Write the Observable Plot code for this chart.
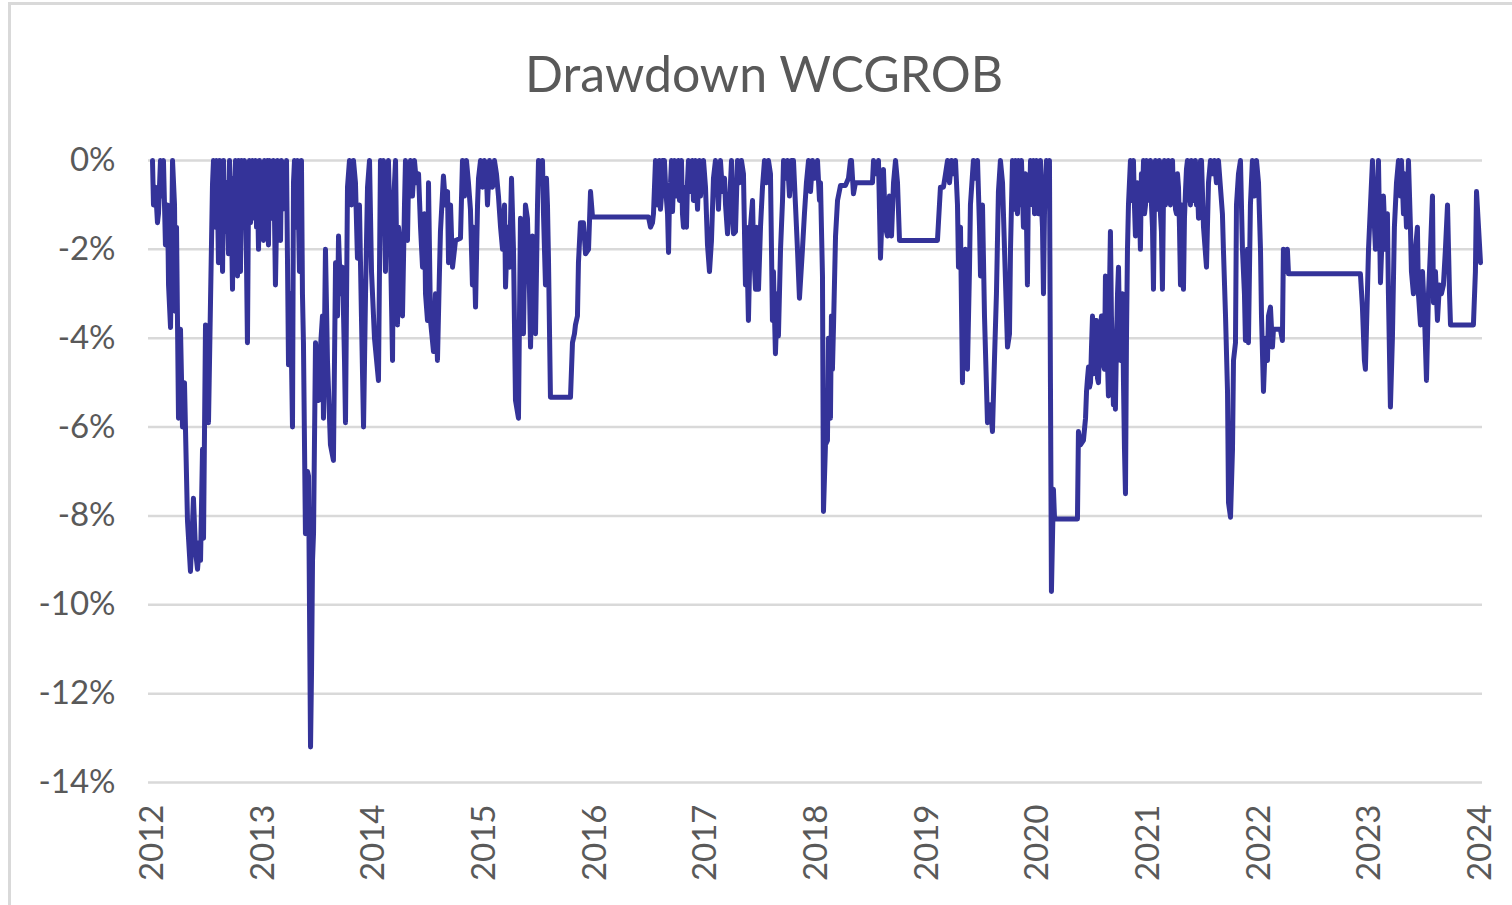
<!DOCTYPE html>
<html>
<head>
<meta charset="utf-8">
<script src="https://cdn.jsdelivr.net/npm/d3@7"></script>
<script src="https://cdn.jsdelivr.net/npm/@observablehq/plot@0.6"></script>
<style>
  html, body { margin: 0; padding: 0; background: #fff; }
  body { width: 1512px; height: 905px; overflow: hidden; position: relative; font-family: Lato, "Open Sans", sans-serif; }
  #frame { position: absolute; left: 8px; top: 2px; width: 1600px; height: 1000px;
           border-top: 3px solid #d9d9d9; border-left: 3px solid #d9d9d9; box-sizing: border-box; }
  #title { position: absolute; top: 48px; left: 264px; width: 1000px; text-align: center;
           font-size: 50px; line-height: 50px; color: #595959; font-family: Lato, sans-serif; }
  #chart { position: absolute; left: 0; top: 130px; }
</style>
</head>
<body>
<div id="frame"></div>
<div id="title">Drawdown WCGROB</div>
<div id="chart"></div>
<script>
// Drawdown (percent) by decimal-year date, one pair of arrays per year
const t2012 = [2012.000,2012.009,2012.027,2012.045,2012.054,2012.072,2012.090,2012.099,2012.117,2012.136,2012.145,2012.163,2012.172,2012.181,2012.199,2012.208,2012.217,2012.235,2012.253,2012.271,2012.289,2012.316,2012.343,2012.361,2012.370,2012.389,2012.407,2012.425,2012.434,2012.452,2012.461,2012.479,2012.497,2012.506,2012.524,2012.542,
  2012.551,2012.560,2012.569,2012.578,2012.587,2012.596,2012.605,2012.614,2012.623,2012.633,
  2012.642,2012.651,2012.660,2012.669,2012.678,2012.687,2012.696,2012.705,2012.714,2012.723,
  2012.732,2012.741,2012.750,2012.759,2012.768,2012.777,2012.786,2012.795,2012.804,2012.813,
  2012.822,2012.831,2012.840,2012.849,2012.858,2012.867,2012.876,2012.886,2012.895,2012.904,
  2012.913,2012.922,2012.931,2012.940,2012.949,2012.958,2012.967,2012.976,2012.985,2012.994];
const v2012 = [0,-1.0,-0.6,-1.4,-1.2,0,-0.8,0,-1.9,-1.0,-2.8,-3.76,-2.0,0,-1.0,-3.4,-1.5,-5.8,-3.8,-6.0,-5.0,-8.1,-9.25,-8.2,-7.6,-8.8,-9.2,-8.6,-9.0,-6.5,-8.5,-3.7,-5.0,-5.9,-3.2,-0.55,
  0,-1.0,-1.5,0,-0.8,-2.3,0,-1.0,-1.2,-2.5,
  0,-1.3,-1.6,-0.5,-1.2,-2.1,0,-0.9,-1.5,-2.9,
  -0.4,-1.0,0,-1.8,-2.6,0,-1.2,-2.5,0,-1.4,
  -1.0,0,-1.1,-2.2,-4.1,-1.0,0,-1.4,-0.6,0,
  -0.8,-1.3,0,-1.5,-0.7,-2.0,0,-0.8,-1.2,-0.3];

const t2013 = [2013.003,2013.012,2013.021,2013.030,2013.039,2013.048,2013.057,2013.066,2013.075,2013.084,
  2013.093,2013.102,2013.111,2013.120,2013.130,2013.139,2013.148,2013.157,2013.166,2013.175,
  2013.184,2013.193,2013.202,2013.211,
  2013.229,2013.247,2013.265,2013.274,2013.283,2013.301,2013.310,2013.328,2013.337,2013.346,2013.355,2013.364,2013.382,2013.401,2013.410,2013.428,2013.437,2013.446,2013.455,2013.473,2013.491,2013.500,2013.518,2013.536,2013.545,2013.563,2013.581,2013.608,2013.635,2013.654,2013.672,2013.681,2013.699,2013.717,2013.735,2013.744,2013.762,2013.780,2013.798,2013.816,2013.834,2013.852,2013.870,2013.888,2013.907,2013.925,2013.943,2013.961,2013.979];
const v2013 = [-1.8,0,-1.1,-0.9,0,-1.9,0,-1.3,-1.0,-0.4,
  0,-1.2,-2.8,-1.5,0,-0.9,-1.0,-1.8,0,-1.1,
  -0.5,-0.2,-0.7,0,
  -4.6,-3.0,-6.0,-0.5,0,-1.5,0,-2.5,-1.0,0,-3.0,-4.1,-8.4,-7.0,-7.1,-13.2,-11.5,-9.0,-8.4,-4.1,-5.0,-5.4,-4.2,-3.5,-5.8,-2.0,-4.5,-6.4,-6.75,-2.3,-3.5,-1.7,-3.0,-2.4,-4.5,-5.9,-0.6,0,-1.0,0,-0.5,-2.2,-1.0,-3.5,-6.0,-3.0,-0.6,0,-2.5];

const t2014 = [2014.006,2014.042,2014.060,2014.078,2014.087,2014.105,2014.114,2014.132,2014.151,2014.169,2014.178,2014.196,2014.214,2014.223,2014.241,2014.259,2014.277,2014.286,2014.304,2014.313,2014.331,2014.349,2014.367,2014.385,2014.404,2014.422,2014.440,2014.458,2014.467,2014.485,2014.494,2014.512,2014.539,2014.557,2014.575,2014.593,2014.602,2014.629,2014.648,2014.666,2014.675,2014.693,2014.711,2014.738,2014.783,2014.801,2014.819,2014.837,2014.855,2014.873,2014.891,2014.901,2014.919,2014.937,2014.946,2014.964,2014.982];
const v2014 = [-4.0,-4.95,0,-1.5,0,-2.5,-0.8,0,-2.0,-4.5,-1.0,0,-3.7,-1.5,-2.0,-3.5,-1.0,0,-1.8,-0.5,0,-0.8,0,-0.5,-0.3,-1.5,-2.4,-1.2,-3.0,-3.6,-0.5,-3.6,-4.3,-3.0,-4.5,-2.5,-1.6,-0.35,-1.0,-0.7,-2.3,-1.0,-2.4,-1.8,-1.75,0,-0.8,0,-0.5,-1.1,-2.8,-1.5,-3.3,-1.0,-0.4,0,-0.6];

const t2015 = [2015.000,2015.018,2015.027,2015.045,2015.072,2015.090,2015.108,2015.126,2015.145,2015.163,2015.181,2015.190,2015.208,2015.226,2015.244,2015.262,2015.280,2015.307,2015.325,2015.334,2015.352,2015.370,2015.388,2015.407,2015.416,2015.434,2015.443,2015.461,2015.479,2015.488,2015.506,2015.524,2015.533,2015.551,2015.560,2015.569,2015.578,2015.596,2015.777,2015.795,2015.813,2015.822,2015.840,2015.849,2015.867,2015.894,2015.913,2015.940,2015.958,2015.976];
const v2015 = [0,-0.4,-1.0,0,-0.6,0,-0.3,-0.8,-1.5,-2.0,-1.0,-2.85,-1.5,-2.4,-0.4,-2.0,-5.4,-5.8,-1.3,-2.5,-3.9,-1.0,-1.3,-3.0,-4.2,-1.7,-2.5,-3.9,-1.0,0,-0.5,0,-1.2,-2.8,-0.4,-1.0,-2.2,-5.33,-5.33,-4.1,-3.9,-3.7,-3.5,-2.3,-1.4,-1.4,-2.1,-2.0,-0.7,-1.27];

const t2016 = [2016.482,2016.500,2016.518,2016.527,
  2016.545,2016.554,2016.563,2016.572,2016.581,2016.590,2016.599,2016.608,2016.617,2016.626,
  2016.635,2016.645,2016.654,2016.663,2016.672,2016.681,2016.690,2016.699,2016.708,2016.717,
  2016.726,2016.735,2016.744,2016.753,2016.762,2016.771,2016.780,2016.789,2016.798,2016.807,
  2016.816,2016.825,2016.834,2016.843,2016.852,2016.861,2016.870,2016.879,2016.888,2016.897,
  2016.906,2016.916,2016.925,2016.934,2016.943,2016.952,
  2016.979,2016.997];
const v2016 = [-1.27,-1.5,-1.4,-1.2,
  0,-0.6,-1.0,-0.3,0,-1.1,-0.8,0,-0.4,0,
  -0.5,-0.9,-1.2,-2.07,-0.8,-0.5,0,-1.15,-0.5,0,
  -0.8,-0.6,-0.2,0,-0.9,-0.7,0,-1.2,-1.5,-1.4,
  -0.6,-1.5,-0.5,0,-0.3,-0.7,-0.2,0,-0.9,-0.5,
  0,-0.6,-1.1,-0.4,0,-0.8,
  0,-0.6];

const t2017 = [2017.015,2017.033,2017.051,2017.069,2017.087,2017.105,2017.114,2017.132,2017.150,2017.169,2017.178,2017.196,2017.214,2017.232,2017.250,2017.268,2017.286,2017.304,2017.322,2017.340,2017.358,2017.367,2017.385,2017.403,2017.422,2017.431,2017.449,2017.458,2017.476,2017.494,2017.512,2017.530,2017.548,2017.566,2017.584,2017.602,2017.611,2017.629,2017.647,2017.656,2017.675,2017.693,2017.702,2017.720,2017.738,2017.756,2017.774,2017.792,2017.810,2017.828,2017.846,2017.873,2017.891,2017.909,2017.928,2017.946,2017.964,2017.982];
const v2017 = [-1.9,-2.5,-1.8,-0.4,0,-0.6,-1.1,0,-0.7,-0.4,-1.0,-1.65,-1.0,0,-1.65,-1.6,0,-0.5,0,-0.3,-2.8,-1.5,-3.6,-1.5,-0.9,-2.0,-2.9,-1.5,-2.9,-1.5,-0.6,0,-0.5,0,-0.3,-3.6,-2.5,-4.35,-3.0,-3.95,-2.0,-0.9,0,-0.4,0,-0.8,0,0,-1.0,-2.0,-3.1,-2.0,-1.2,-0.5,0,-0.7,0,-0.4];

const t2018 = [2018.009,2018.027,2018.036,2018.054,2018.063,2018.081,2018.099,2018.108,2018.126,2018.135,2018.144,2018.154,2018.172,2018.190,2018.217,2018.262,2018.289,2018.307,2018.316,2018.334,2018.352,2018.506,2018.515,2018.542,2018.560,2018.578,2018.596,2018.605,2018.623,2018.641,2018.659,2018.678,2018.696,2018.714,2018.732,2018.750];
const v2018 = [0,-0.9,-0.5,-2.6,-7.9,-6.4,-6.3,-4.0,-5.8,-3.5,-4.7,-3.7,-1.7,-0.9,-0.56,-0.56,-0.4,0,0,-0.75,-0.5,-0.5,0,-0.3,0,-2.2,-1.0,-0.2,-1.5,-1.7,-0.8,-1.7,-0.5,0,-0.5,-1.8];

const t2019 = [2019.093,2019.102,2019.120,2019.147,2019.166,2019.184,2019.202,2019.220,2019.238,2019.256,2019.274,2019.283,2019.301,2019.319,2019.328,2019.346,2019.364,2019.382,2019.391,2019.418,2019.437,2019.455,2019.473,2019.482,2019.500,2019.518,2019.545,2019.572,2019.590,2019.608,2019.626,2019.644,2019.662,2019.681,2019.699,2019.726,2019.744,
  2019.753,2019.762,2019.771,2019.780,2019.789,2019.798,2019.807,2019.816,2019.825,2019.834,
  2019.843,2019.852,2019.861,2019.870,2019.879,2019.888,2019.897,2019.906,2019.915,2019.925,
  2019.934,2019.943,2019.952,2019.961,2019.970,2019.979,2019.988,2019.997];
const v2019 = [-1.8,-1.4,-0.6,-0.6,-0.3,0,-0.5,0,-0.3,0,-1.0,-2.4,-1.5,-5.0,-3.0,-2.0,-4.7,-2.5,-1.0,0,-0.4,0,-1.5,-2.6,-1.0,-3.5,-5.9,-5.5,-6.1,-4.5,-3.0,-0.7,0,-0.5,-2.0,-4.2,-3.9,
  -2.0,-1.0,0,-1.1,-0.6,0,-0.9,-1.2,0,-1.0,
  -0.8,0,-0.7,-1.5,-0.9,-0.3,-1.3,-2.8,-0.5,-1.0,
  0,-0.6,-1.0,0,-1.2,-0.7,0,-0.8];

const t2020 = [2020.006,2020.015,
  2020.024,2020.033,2020.042,2020.051,2020.060,2020.069,2020.078,2020.087,2020.096,2020.105,
  2020.114,2020.123,2020.141,2020.150,2020.159,2020.358,2020.367,2020.385,2020.412,
  2020.431,2020.440,2020.449,2020.458,2020.467,2020.476,2020.485,2020.494,2020.503,2020.512,
  2020.521,2020.530,2020.539,2020.548,2020.557,2020.566,2020.575,2020.584,2020.593,2020.602,
  2020.611,2020.620,2020.629,2020.638,2020.647,2020.656,2020.665,2020.674,2020.683,2020.692,
  2020.701,2020.710,2020.720,2020.729,2020.738,2020.747,2020.756,2020.765,2020.774,2020.783,
  2020.792,2020.801,2020.810,2020.819,2020.828,
  2020.837,2020.846,2020.855,2020.864,2020.873,2020.882,2020.891,2020.900,2020.909,2020.918,
  2020.927,2020.936,2020.946,2020.955,2020.964,2020.973,2020.982,2020.991];
const v2020 = [-1.2,-0.4,
  0,-1.0,-1.5,-3.0,-1.2,-0.5,0,-0.9,-1.0,0,
  -5.0,-9.7,-7.4,-8.0,-8.07,-8.07,-6.1,-6.4,-6.3,
  -5.8,-5.2,-4.9,-4.65,-5.1,-5.0,-4.2,-3.5,-4.8,-4.5,
  -3.6,-3.6,-4.9,-5.0,-4.2,-4.0,-3.5,-3.5,-4.6,-4.7,
  -2.6,-3.8,-4.5,-5.3,-3.0,-1.6,-3.5,-4.4,-5.5,-4.0,
  -5.6,-4.2,-3.0,-2.4,-3.8,-4.5,-3.3,-3.0,-5.0,-6.5,
  -7.5,-4.0,-2.0,-1.0,-0.5,
  0,-0.9,-0.8,0,-1.0,-1.7,-1.2,-0.5,-1.5,-1.0,
  -2.0,-0.3,-0.8,0,-1.2,-1.0,0,-0.9];

const t2021 = [2021.000,2021.009,
  2021.018,2021.027,2021.036,2021.045,2021.054,2021.063,2021.072,2021.081,2021.090,2021.099,
  2021.108,2021.117,2021.126,2021.135,2021.144,2021.153,2021.162,2021.171,2021.180,2021.189,
  2021.198,2021.207,2021.217,2021.226,2021.235,2021.244,2021.253,2021.262,2021.271,2021.280,
  2021.289,2021.298,2021.307,2021.316,2021.325,2021.334,2021.343,2021.352,2021.361,2021.370,
  2021.379,2021.388,2021.397,2021.406,2021.415,2021.424,2021.433,2021.443,2021.452,2021.461,
  2021.470,
  2021.479,2021.497,2021.524,2021.542,2021.560,2021.578,2021.596,2021.614,2021.632,2021.650,2021.668,2021.677,2021.696,2021.714,2021.723,2021.741,2021.759,2021.768,2021.786,2021.795,2021.813,2021.831,2021.849,2021.867,2021.876,2021.894,2021.903,2021.921,2021.939,2021.957,2021.976,2021.994];
const v2021 = [-0.6,-0.2,
  0,-1.0,-1.5,-2.9,-0.8,0,-1.1,-0.8,-0.3,0,
  -1.2,-1.6,-2.9,-0.9,0,-1.0,-0.5,-0.9,0,-0.7,
  -1.0,-0.4,0,-0.9,-0.4,-1.1,-1.2,-0.3,-0.6,-1.5,
  -2.8,-1.0,-1.5,-2.9,-1.3,-0.7,-0.2,0,-0.9,-0.5,
  -1.0,0,-0.6,-0.9,-0.3,0,-1.0,-0.6,-1.3,-1.0,
  0,
  0,-1.5,-2.4,-0.5,0,-0.3,0,-0.5,0,-0.6,-1.2,-2.0,-3.5,-5.2,-7.7,-8.03,-6.5,-4.5,-4.1,-1.0,-0.3,0,-2.0,-3.0,-4.05,-2.0,-4.1,-1.0,0,-0.8,0,-0.5];

const t2022 = [2022.012,2022.021,2022.039,2022.057,2022.075,2022.084,2022.102,2022.120,2022.129,2022.192,2022.210,2022.219,2022.237,2022.255,2022.265,2022.915,2022.933,2022.951,2022.960,2022.978,2022.988];
const v2022 = [-2.0,-3.5,-5.2,-4.0,-4.5,-3.5,-3.3,-4.2,-3.8,-3.8,-4.05,-2.0,-2.5,-2.0,-2.55,-2.55,-3.3,-4.5,-4.7,-3.0,-2.0];

const t2023 = [2023.006,2023.024,2023.042,2023.051,2023.069,2023.078,2023.096,2023.114,2023.123,2023.141,2023.159,2023.168,2023.186,2023.204,2023.222,2023.241,2023.259,2023.277,2023.286,2023.304,2023.313,2023.331,2023.349,2023.367,2023.376,2023.394,2023.412,2023.430,2023.439,2023.458,2023.476,2023.494,2023.512,2023.530,2023.548,2023.566,2023.575,2023.593,2023.611,2023.629,2023.647,2023.665,2023.683,2023.702,2023.711,2023.720,2023.729,2023.936,2023.954,2023.964,2023.982,2024.000];
const v2023 = [-1.0,0,-1.5,-2.0,-0.8,0,-2.75,-1.5,-0.8,-2.0,-1.2,-3.0,-5.55,-4.0,-1.5,-0.5,0,-0.8,0,-1.2,-0.3,-1.5,0,-1.5,-2.5,-3.0,-2.0,-1.5,-3.0,-3.7,-2.5,-3.5,-4.95,-3.0,-2.0,-0.8,-3.2,-2.5,-3.6,-2.8,-3.0,-2.8,-2.0,-1.0,-2.0,-3.0,-3.7,-3.7,-2.5,-0.7,-1.5,-2.3];

const yTicks = [0, -2, -4, -6, -8, -10, -12, -14];
const xTicks = [2012, 2013, 2014, 2015, 2016, 2017, 2018, 2019, 2020, 2021, 2022, 2023, 2024];

const segments = [
  [t2012, v2012], [t2013, v2013], [t2014, v2014], [t2015, v2015],
  [t2016, v2016], [t2017, v2017], [t2018, v2018], [t2019, v2019],
  [t2020, v2020], [t2021, v2021], [t2022, v2022], [t2023, v2023]
];
const series = [];
for (const [ts, vs] of segments) {
  const n = Math.min(ts.length, vs.length);
  for (let i = 0; i < n; i++) series.push({t: ts[i], v: vs[i]});
}

const chart = Plot.plot({
  width: 1512,
  height: 775,
  marginTop: 30,
  marginBottom: 123,
  marginLeft: 152,
  marginRight: 32,
  style: {fontFamily: "Lato, 'Open Sans', sans-serif", fontSize: "33px", color: "#595959", background: "transparent", overflow: "visible"},
  x: {type: "linear", domain: [2012, 2024]},
  y: {domain: [-14, 0]},
  marks: [
    Plot.ruleY(yTicks, {stroke: "#d9d9d9", strokeWidth: 2.5, insetLeft: -4, insetRight: -2}),
    Plot.axisY({ticks: yTicks, tickFormat: d => d + "%", tickSize: 0, tickPadding: 37, label: null, fontSize: 33}),
    Plot.axisX({ticks: xTicks, tickFormat: d => String(d), tickRotate: -90, tickSize: 0, tickPadding: 22, label: null, fontSize: 33}),
    Plot.line(series, {x: "t", y: "v", stroke: "#343399", strokeWidth: 5, strokeLinejoin: "round", strokeLinecap: "round"})
  ]
});
document.getElementById("chart").appendChild(chart);
</script>
</body>
</html>
